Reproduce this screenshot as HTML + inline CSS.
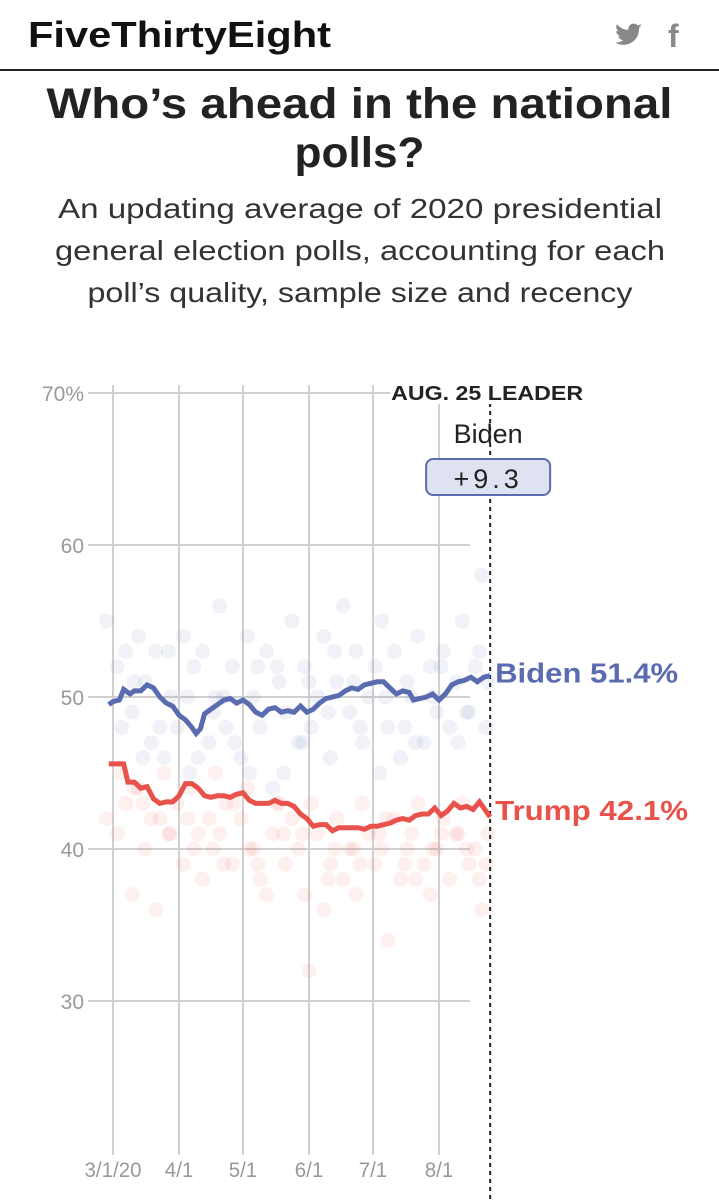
<!DOCTYPE html>
<html><head><meta charset="utf-8"><style>
html,body{margin:0;padding:0;background:#fff;width:719px;height:1200px;overflow:hidden}
svg{display:block}
</style></head><body>
<svg width="719" height="1200" viewBox="0 0 719 1200" font-family="'Liberation Sans',sans-serif">
<g>
<text x="28" y="47" font-size="36" font-weight="bold" fill="#111" textLength="303" lengthAdjust="spacingAndGlyphs">FiveThirtyEight</text>
<g transform="translate(614,22)"><path d="M28 4c-1 .5-2 .8-3.2 1 1.2-.7 2-1.8 2.4-3-1 .6-2.3 1-3.5 1.3A5.5 5.5 0 0 0 14.3 8 15.6 15.6 0 0 1 3 2.2a5.5 5.5 0 0 0 1.7 7.3c-.9 0-1.8-.3-2.5-.7 0 2.7 1.9 4.9 4.4 5.4-.8.2-1.6.3-2.5.1.7 2.2 2.7 3.8 5.1 3.8A11 11 0 0 1 1 20.4 15.6 15.6 0 0 0 25 6.6V5.9c1.1-.5 2.2-1.1 3-1.9z" fill="#888"/></g>
<text x="668" y="47" font-size="32" font-weight="bold" fill="#888">f</text>
<rect x="0" y="69" width="719" height="2" fill="#222"/>
<text x="359.5" y="118" text-anchor="middle" font-size="43" font-weight="bold" fill="#222" textLength="626" lengthAdjust="spacingAndGlyphs">Who’s ahead in the national</text>
<text x="359.5" y="167" text-anchor="middle" font-size="43" font-weight="bold" fill="#222" textLength="130" lengthAdjust="spacingAndGlyphs">polls?</text>
<text x="360" y="218" text-anchor="middle" font-size="28" fill="#333" textLength="604" lengthAdjust="spacingAndGlyphs">An updating average of 2020 presidential</text>
<text x="360" y="260" text-anchor="middle" font-size="28" fill="#333" textLength="610" lengthAdjust="spacingAndGlyphs">general election polls, accounting for each</text>
<text x="360" y="302" text-anchor="middle" font-size="28" fill="#333" textLength="545" lengthAdjust="spacingAndGlyphs">poll’s quality, sample size and recency</text>
</g>
<g id="chart"></g>
</svg>
<script>
const yTicks=[70,60,50,40,30];
const yTickLabels=["70%","60","50","40","30"];
const xTickDays=[0,31,61,92,122,153];
const xTickLabels=["3/1/20","4/1","5/1","6/1","7/1","8/1"];
const leaderDay=177;
const bidenDays=[-2,0,3,5,8,10,13,16,19,22,25,28,31,34,37,39,41,43,46,49,52,55,58,61,64,67,70,73,76,79,82,85,88,91,94,97,100,103,106,109,112,115,118,121,124,127,130,133,136,139,141,144,147,150,153,156,159,162,165,168,171,174,177];
const bidenValues=[49.5,49.7,49.8,50.5,50.2,50.4,50.4,50.8,50.6,50.0,49.6,49.4,48.8,48.5,48.0,47.6,47.9,48.9,49.2,49.5,49.8,49.9,49.6,49.8,49.5,49.0,48.8,49.2,49.3,49.0,49.1,49.0,49.4,49.0,49.2,49.6,49.9,50.0,50.1,50.4,50.6,50.5,50.8,50.9,51.0,51.0,50.6,50.2,50.4,50.3,49.8,49.9,50.0,50.2,49.8,50.2,50.8,51.0,51.1,51.3,51.0,51.3,51.4];
const trumpDays=[-2,0,3,5,7,10,13,16,19,22,25,28,31,34,37,40,43,46,49,52,55,58,61,64,67,70,73,76,79,82,85,88,91,94,97,100,103,106,109,112,115,118,121,124,127,130,133,136,139,142,145,148,151,154,157,160,163,166,169,172,175,177];
const trumpValues=[45.6,45.6,45.6,45.6,44.4,44.4,44.0,44.1,43.3,43.0,43.1,43.1,43.5,44.3,44.3,44.0,43.5,43.4,43.5,43.5,43.4,43.6,43.7,43.2,43.0,43.0,43.0,43.2,43.0,43.0,42.8,42.3,42.0,41.5,41.6,41.6,41.2,41.4,41.4,41.4,41.4,41.3,41.5,41.5,41.6,41.7,41.9,42.0,41.9,42.2,42.3,42.3,42.7,42.2,42.5,43.0,42.7,42.8,42.6,43.1,42.5,42.1];
const bidenPollDays=[-3,2,6,9,12,15,18,20,24,27,30,33,36,38,42,45,48,50,53,56,60,63,66,69,72,75,78,81,84,87,90,93,96,99,102,105,108,111,114,117,120,123,126,129,132,135,138,140,143,146,149,152,155,158,161,164,167,170,173,176,4,14,26,35,47,57,68,80,92,104,116,128,142,154,166,175,10,22,40,52,64,77,89,101,113,125,137,150,162,172];
const bidenPollValues=[55,52,53,49,54,51,47,53,46,50,48,54,45,52,53,47,50,56,48,52,46,54,50,48,53,44,51,49,55,47,52,48,50,54,46,51,56,49,53,47,50,52,55,48,53,46,51,50,54,47,52,49,53,48,51,55,49,52,58,51,48,46,53,50,49,47,52,45,51,53,48,50,47,52,49,48,51,48,46,50,45,52,47,49,51,45,48,50,47,53];
const trumpPollDays=[-3,2,6,9,12,15,18,20,24,27,30,33,36,38,42,45,48,50,53,56,60,63,66,69,72,75,78,81,84,87,90,93,96,99,102,105,108,111,114,117,120,123,126,129,132,135,138,140,143,146,149,152,155,158,161,164,167,170,173,176,4,14,26,35,47,57,68,80,92,104,116,128,142,154,166,175,10,22,40,52,64,77,89,101,113,125,137,150,162,172];
const trumpPollValues=[42,41,43,37,44,40,42,36,45,41,43,39,44,40,38,42,45,41,43,39,42,44,40,38,37,41,43,39,42,40,37,43,41,36,39,42,38,40,37,43,41,39,40,34,42,38,40,41,43,39,37,40,42,38,41,43,39,40,36,41,45,43,41,42,40,43,39,41,32,40,39,42,38,41,40,39,44,42,41,39,40,43,41,38,40,41,39,40,41,38];

const NS="http://www.w3.org/2000/svg";
const chart=document.getElementById('chart');
const x=d=>113+d*(439-113)/153;
const y=v=>697-(v-50)*15.2;
function mk(tag,attrs,parent){const e=document.createElementNS(NS,tag);for(const k in attrs)e.setAttribute(k,attrs[k]);(parent||chart).appendChild(e);return e;}

const grid=mk('g',{});


xTickDays.forEach((d,i)=>{
  const l=mk('line',{x1:x(d),x2:x(d),y1:385,y2:1155,stroke:'#d0d0d0','stroke-width':2},grid);
  
  
  const t=mk('text',{x:x(d),y:1177,'text-anchor':'middle','font-size':21,fill:'#999'},grid);
  
  
  t.setAttribute('textLength',xTickLabels[i].length*9.5);
  t.setAttribute('lengthAdjust','spacingAndGlyphs');
  t.textContent=xTickLabels[i];
});
yTicks.forEach((v,i)=>{
  const l=mk('line',{x1:88,x2:470,y1:y(v),y2:y(v),stroke:'#d0d0d0','stroke-width':2},grid);
  
  
  const t=mk('text',{x:84,y:y(v)+8,'text-anchor':'end','font-size':21,fill:'#999'},grid);
  
  
  t.textContent=yTickLabels[i];
});

const dots=mk('g',{});


trumpPollDays.forEach((d,i)=>{
  const c=mk('circle',{cx:x(d),cy:y(trumpPollValues[i]),r:7.5,fill:'#ee6a60','fill-opacity':0.1},dots);
  
  
});
bidenPollDays.forEach((d,i)=>{
  const c=mk('circle',{cx:x(d),cy:y(bidenPollValues[i]),r:7.5,fill:'#6a7dbd','fill-opacity':0.1},dots);
  
  
});

const dl=mk('line',{x1:x(leaderDay),x2:x(leaderDay),y1:395,y2:1200,stroke:'#222','stroke-width':2,'stroke-dasharray':'4,4'});



const bp=mk('polyline',{points:bidenDays.map((d,i)=>x(d)+','+y(bidenValues[i])).join(' '),fill:'none',stroke:'#5a6bb0','stroke-width':5,'stroke-linejoin':'miter'});


const tp=mk('polyline',{points:trumpDays.map((d,i)=>x(d)+','+y(trumpValues[i])).join(' '),fill:'none',stroke:'#e8524a','stroke-width':5,'stroke-linejoin':'miter'});



const lx=x(leaderDay);
const bl=mk('text',{x:lx+5,y:y(bidenValues[bidenValues.length-1])+7,'font-size':28,'font-weight':'bold',fill:'#5a6bb0',textLength:183,lengthAdjust:'spacingAndGlyphs'});


bl.textContent='Biden '+bidenValues[bidenValues.length-1].toFixed(1)+'%';
const tl=mk('text',{x:lx+5,y:y(trumpValues[trumpValues.length-1])+3,'font-size':28,'font-weight':'bold',fill:'#e8524a',textLength:193,lengthAdjust:'spacingAndGlyphs'});


tl.textContent='Trump '+trumpValues[trumpValues.length-1].toFixed(1)+'%';

const lead=mk('g',{});


const bg=mk('rect',{x:lx-100,y:378,width:200,height:26,fill:'#fff'},lead);


const h=mk('text',{x:lx-3,y:400,'text-anchor':'middle','font-size':20,'font-weight':'bold',fill:'#222',textLength:192,lengthAdjust:'spacingAndGlyphs'},lead);


h.textContent='AUG. 25 LEADER';
const n=mk('text',{x:lx-2,y:443,'text-anchor':'middle','font-size':27,fill:'#222'},lead);


n.textContent='Biden';
const r=mk('rect',{x:lx-64,y:459,width:124,height:36,rx:7,fill:'#dfe3f1',stroke:'#5a6bb0','stroke-width':2},lead);


const m=mk('text',{x:lx-2,y:488,'text-anchor':'middle','font-size':27,fill:'#222','letter-spacing':'4'},lead);


m.textContent='+'+(bidenValues[bidenValues.length-1]-trumpValues[trumpValues.length-1]).toFixed(1);
</script>
</body></html>
